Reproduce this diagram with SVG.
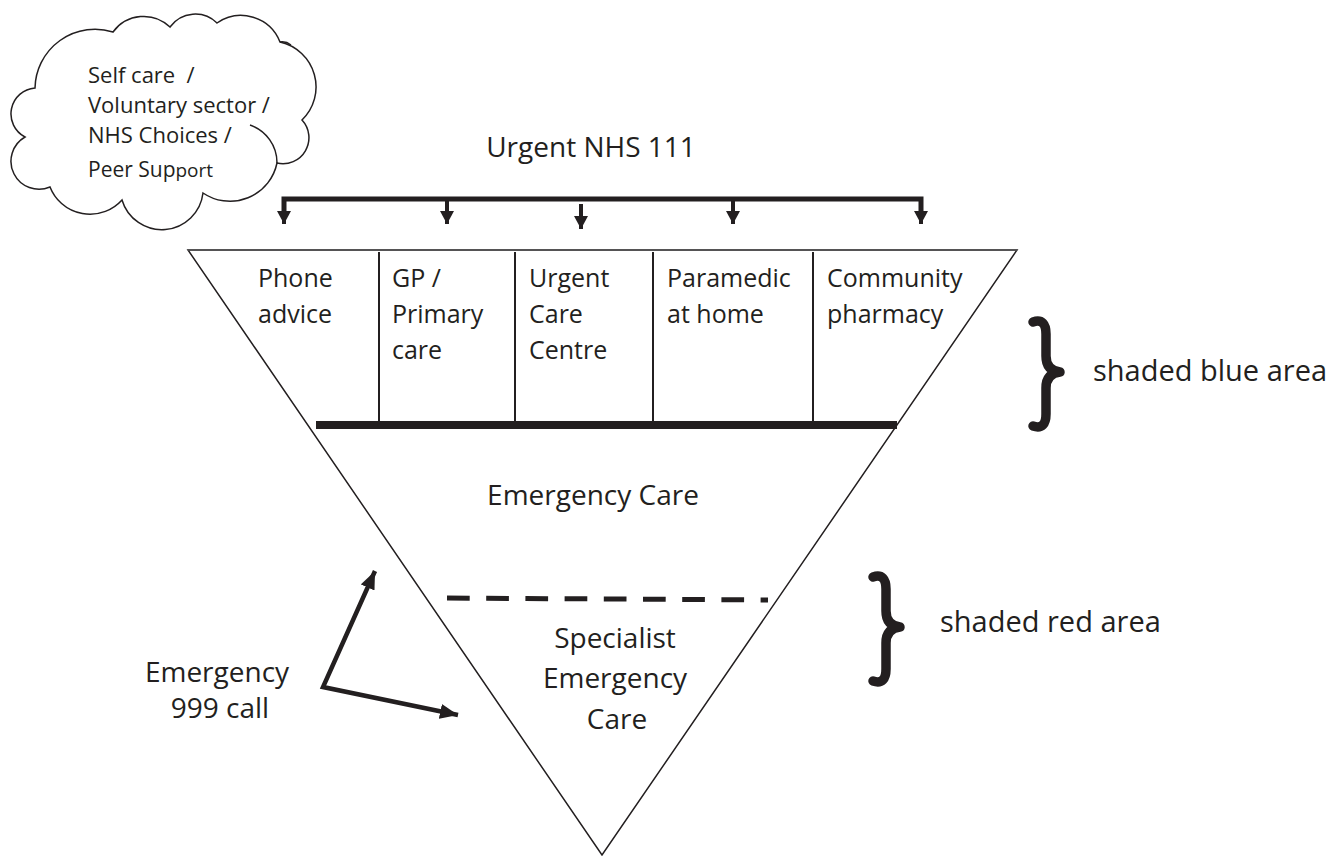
<svg xmlns="http://www.w3.org/2000/svg" xmlns:xlink="http://www.w3.org/1999/xlink" width="1344" height="856" viewBox="0 0 1344 856">
  <style>
    text { font-family: 'Open Sans', 'Noto Sans', sans-serif; fill: #231f20; }
    .title { font-size: 28px; }
    .cell { font-size: 25px; }
    .big { font-size: 28px; }
    .side { font-size: 29px; }
    .cloudtxt { font-size: 22px; }
    .thin { fill: none; stroke: #231f20; stroke-width: 1.5; }
    .divider { stroke: #231f20; stroke-width: 2; }
    .bus { fill: none; stroke: #231f20; stroke-width: 5; }
    .drop { fill: none; stroke: #231f20; stroke-width: 4; }
    .callout { fill: none; stroke: #231f20; stroke-width: 4.5; stroke-linejoin: miter; }
    .brace { fill: none; stroke: #231f20; stroke-width: 9.5; stroke-linecap: round; stroke-linejoin: round; }
  </style>
  <defs>
    <marker id="head" viewBox="0 0 13 14" refX="13" refY="7" markerWidth="13" markerHeight="14" markerUnits="userSpaceOnUse" orient="auto">
      <path d="M0,0 L13,7 L0,14 Z" fill="#231f20"/>
    </marker>
    <marker id="head-lg" viewBox="0 0 18 15" refX="18" refY="7.5" markerWidth="18" markerHeight="15" markerUnits="userSpaceOnUse" orient="auto-start-reverse">
      <path d="M0,0 L18,7.5 L0,15 Z" fill="#231f20"/>
    </marker>
    <!-- curly brace, drawn at the upper position -->
    <path id="brace" class="brace" d="M1033,322 C1042,319 1046,324 1046,334 L1046,356 C1046,366 1051,371 1060,372 C1051,373 1046,378 1046,388 L1046,414 C1046,424 1042,429 1033,426"/>
  </defs>

  <rect width="1344" height="856" fill="#ffffff"/>

  <!-- thought cloud -->
  <g id="cloud">
    <path class="thin" style="fill:#ffffff" d="M35,88 A60 60 0 0 1 113,32 A38 38 0 0 1 170,27 A31 31 0 0 1 217,23 A42 42 0 0 1 280,42 A46 46 0 0 1 302,120 A26 26 0 0 1 277,163 A48 48 0 0 1 203,193 A41.5 41.5 0 0 1 122,200 A43 43 0 0 1 50,187 A28 28 0 0 1 25,137 A26 26 0 0 1 35,88 Z"/>
    <path class="thin" d="M250,125 A40 40 0 0 1 277,163"/>
    <path class="thin" d="M280,42 Q286,41 291,45"/>
    <text class="cloudtxt" x="88" y="83" xml:space="preserve">Self care  /</text>
    <text class="cloudtxt" x="88" y="113">Voluntary sector /</text>
    <text class="cloudtxt" x="88" y="143">NHS Choices /</text>
    <text class="cloudtxt" x="88" y="177" style="font-size:21px">Peer Sup<tspan style="font-size:19px">port</tspan></text>
  </g>

  <!-- NHS 111 heading -->
  <g id="nhs111">
    <text class="title" x="591" y="157" text-anchor="middle">Urgent NHS 111</text>
  </g>

  <!-- funnel -->
  <g id="funnel">
    <polygon points="188,250 1017,250 602,855" fill="#ffffff" stroke="#231f20" stroke-width="1.5"/>
    <line x1="188" y1="250" x2="1017" y2="250" stroke="#555555" stroke-width="1.5"/>
  </g>

  <!-- urgent care columns -->
  <g id="urgent-columns">
    <line class="divider" x1="379" y1="252" x2="379" y2="421"/>
    <line class="divider" x1="515" y1="252" x2="515" y2="421"/>
    <line class="divider" x1="653" y1="252" x2="653" y2="421"/>
    <line class="divider" x1="813" y1="252" x2="813" y2="421"/>
    <line x1="316" y1="425" x2="897" y2="425" stroke="#231f20" stroke-width="8"/>
  </g>
  <g id="phone-advice">
    <text class="cell" x="258" y="287">Phone</text>
    <text class="cell" x="258" y="323">advice</text>
  </g>
  <g id="gp-primary">
    <text class="cell" x="392" y="287">GP /</text>
    <text class="cell" x="392" y="323">Primary</text>
    <text class="cell" x="392" y="359">care</text>
  </g>
  <g id="urgent-care-centre">
    <text class="cell" x="529" y="287">Urgent</text>
    <text class="cell" x="529" y="323">Care</text>
    <text class="cell" x="529" y="359">Centre</text>
  </g>
  <g id="paramedic">
    <text class="cell" x="667" y="287">Paramedic</text>
    <text class="cell" x="667" y="323">at home</text>
  </g>
  <g id="pharmacy">
    <text class="cell" x="827" y="287">Community</text>
    <text class="cell" x="827" y="323">pharmacy</text>
  </g>

  <!-- emergency tiers -->
  <g id="emergency-care">
    <text class="big" x="593" y="505" text-anchor="middle">Emergency Care</text>
  </g>
  <g id="specialist-care">
    <path d="M447,598 L768,600" fill="none" stroke="#231f20" stroke-width="5" stroke-dasharray="22.7 16.5"/>
    <text class="big" x="615" y="648" text-anchor="middle">Specialist</text>
    <text class="big" x="615" y="688" text-anchor="middle">Emergency</text>
    <text class="big" x="617" y="729" text-anchor="middle">Care</text>
  </g>

  <g id="call-999">
    <text class="big" x="217" y="682" text-anchor="middle">Emergency</text>
    <text class="big" x="220" y="718" text-anchor="middle">999 call</text>
  </g>

  <!-- area legends -->
  <g id="blue-area">
    <use xlink:href="#brace"/>
    <text class="side" x="1093" y="381">shaded blue area</text>
  </g>
  <g id="red-area">
    <use xlink:href="#brace" transform="translate(-160,255)"/>
    <text class="side" x="940" y="632">shaded red area</text>
  </g>

  <!-- connectors -->
  <g id="connectors">
    <path class="bus" d="M284,214 V199 H921 V214"/>
    <line class="drop" x1="284" y1="200" x2="284" y2="224" marker-end="url(#head)"/>
    <line class="drop" x1="447" y1="200" x2="447" y2="224" marker-end="url(#head)"/>
    <line class="drop" x1="581" y1="204" x2="581" y2="229" marker-end="url(#head)"/>
    <line class="drop" x1="733" y1="200" x2="733" y2="224" marker-end="url(#head)"/>
    <line class="drop" x1="921" y1="200" x2="921" y2="224" marker-end="url(#head)"/>
    <polyline class="callout" points="375,571 323,687 458,715" marker-start="url(#head-lg)" marker-end="url(#head-lg)"/>
  </g>
</svg>
